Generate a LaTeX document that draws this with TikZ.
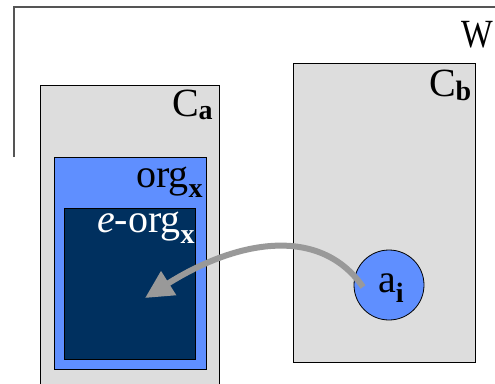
\documentclass[tikz,border=0pt]{standalone}
\usepackage{fontspec}
\setmainfont{Liberation Serif}
\usetikzlibrary{arrows.meta}
\definecolor{boxgray}{HTML}{DDDDDD}
\definecolor{orgblue}{HTML}{5F8FFF}
\definecolor{eorgblue}{HTML}{00305F}
\definecolor{framegray}{HTML}{555555}
\definecolor{arrowgray}{HTML}{999999}
\newcommand{\mainsz}{\fontsize{40}{44}\selectfont}
\newcommand{\lowsub}[2]{\raisebox{-#1}{\fontsize{28}{30}\selectfont\bfseries #2}}
\tikzset{
  box/.style={draw=black, line width=0.8pt, inner sep=0pt, outer sep=0pt, rectangle},
  lbl/.style={inner sep=0pt, outer sep=0pt, anchor=base west, font=\mainsz},
  flow/.style={draw=arrowgray, line width=6pt, -{Triangle[length=28pt,width=27pt]}},
}
\begin{document}
\begin{tikzpicture}[x=1pt,y=-1pt]
\clip (0,0) rectangle (495,383);
\fill[white] (0,0) rectangle (495,383);
% world frame
\coordinate (wbot) at (14,157);
\coordinate (wcorner) at (14,7);
\coordinate (wright) at (497,7);
\draw[framegray, line width=1.5pt] (wbot) -- (wcorner) -- (wright);
\node[lbl] (w) at (461,47) {\scalebox{0.84}[1]{W}};
% containers
\node[box, fill=boxgray, minimum width=179pt, minimum height=315pt] (ca) at (129.5,242.5) {};
\node[box, fill=boxgray, minimum width=182pt, minimum height=299pt] (cb) at (384,212.5) {};
\node[lbl] (calbl) at (172,116) {C\lowsub{3.5pt}{a}};
\node[lbl] (cblbl) at (429,96.5) {C\lowsub{3.5pt}{b}};
% organisations
\node[box, fill=orgblue, minimum width=152pt, minimum height=212pt] (org) at (130,263) {};
\node[lbl] (orglbl) at (136,187) {org\lowsub{10pt}{x}};
\node[box, fill=eorgblue, minimum width=131pt, minimum height=151pt] (eorg) at (129.5,283.5) {};
\node[lbl, text=white] (eorglbl) at (97,232) {\textit{e}-org\lowsub{11pt}{x}};
% agent
\node[draw=black, line width=0.8pt, circle, fill=orgblue, minimum size=70pt, inner sep=0pt] (ai) at (389,285) {};
\node[lbl] (ailbl) at (378,292) {a\lowsub{10pt}{i}};
% movement
\coordinate (tail) at (363,287);
\coordinate (target) at (145,298);
\draw[flow] (tail) .. controls (320,225) and (237,240) .. (target);
\end{tikzpicture}
\end{document}
